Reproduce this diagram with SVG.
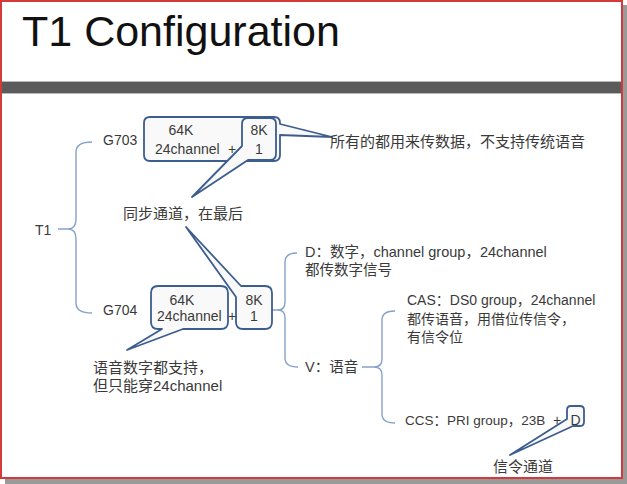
<svg xmlns="http://www.w3.org/2000/svg" width="627" height="484" viewBox="0 0 627 484">
<style>
.t{font-family:"Liberation Sans","Noto Sans CJK SC",sans-serif;fill:#3a3a3a;font-size:14px}
.cj{font-size:15px}
.lb{font-size:14px}
.box{fill:#f9f9f9;stroke:#3d5d8f;stroke-width:1.8;stroke-linejoin:round}
.br{fill:none;stroke:#86a2cc;stroke-width:1.4}
</style>
<rect x="0" y="0" width="627" height="484" fill="#ffffff"/>
<rect x="622" y="5" width="5" height="479" fill="#9a9a9a"/>
<rect x="5" y="479" width="622" height="5" fill="#9a9a9a"/>
<rect x="1" y="1" width="621" height="477" fill="#ffffff" stroke="#d43a3a" stroke-width="2"/>
<rect x="2" y="81" width="619" height="13" fill="#b8b8b8"/>
<rect x="2" y="82" width="619" height="11" fill="#5b5b5b"/>
<text x="22" y="46" style="font-family:'Liberation Sans',sans-serif;font-size:43px;fill:#111">T1 Configuration</text>

<g id="connectors">
<path class="br" d="M92,142 Q76,142 76,152 V219 Q76,229 68,229 Q76,229 76,239 V303 Q76,313 92,313 M58,229 H68"/>
<path class="br" d="M297,253 Q285,253 285,262 V302 Q285,310 278,310 Q285,310 285,318 V358 Q285,367 298,367 M272,310 H278"/>
<path class="br" d="M362,367 H374 M395,311 Q382,311 382,320 V359 Q382,367 374,367 Q382,367 382,375 V414 Q382,423 395,423"/>
</g>

<g id="g703">
<path class="box" d="M150,117 H274 Q280,117 280,123 V124 L332,137 L280,135 V155 Q280,161 274,161 H150 Q144,161 144,155 V123 Q144,117 150,117 Z"/>
<path class="box" d="M248,118 H270 Q276,118 276,124 V154 Q276,160 270,160 H248 L192,197 L242,146 V124 Q242,118 248,118 Z"/>
<text class="t lb" x="103" y="145">G703</text>
<text class="t" x="181" y="135" text-anchor="middle">64K</text>
<text class="t" x="155" y="154">24channel</text>
<text class="t" x="232" y="154" text-anchor="middle">+</text>
<text class="t" x="259" y="135" text-anchor="middle">8K</text>
<text class="t" x="259" y="154" text-anchor="middle">1</text>
</g>

<g id="g704">
<path class="box" d="M158,286 H221 Q228,286 228,293 V322 Q228,329 221,329 H183 L127,350 L162,329 H158 Q151,329 151,322 V293 Q151,286 158,286 Z"/>
<path class="box" d="M243,286 H265 Q272,286 272,293 V322 Q272,329 265,329 H243 Q236,329 236,322 V297 L186,227 L241,286 Z"/>
<text class="t lb" x="103" y="315">G704</text>
<text class="t" x="182" y="305" text-anchor="middle">64K</text>
<text class="t" x="157" y="321">24channel</text>
<text class="t" x="232" y="321" text-anchor="middle">+</text>
<text class="t" x="254" y="305" text-anchor="middle">8K</text>
<text class="t" x="254" y="321" text-anchor="middle">1</text>
</g>

<g id="t1"><text class="t lb" x="35" y="235">T1</text></g>
<g id="note-data"><text class="t cj" x="330" y="147">所有的都用来传数据，不支持传统语音</text></g>
<g id="note-sync"><text class="t cj" x="123" y="218.5">同步通道，在最后</text></g>
<g id="note-g704">
<text class="t cj" x="93" y="372.5">语音数字都支持，</text>
<text class="t cj" x="93" y="390.5">但只能穿24channel</text>
</g>
<g id="d-digital">
<text class="t" x="305" y="257" style="font-size:14.5px">D：数字，channel group，24channel</text>
<text class="t" x="305" y="275" style="font-size:14.5px">都传数字信号</text>
</g>
<g id="v-voice"><text class="t" x="305" y="372" style="font-size:14.5px">V：语音</text></g>
<g id="cas">
<text class="t" x="407" y="305">CAS：DS0 group，24channel</text>
<text class="t" x="407" y="323.5">都传语音，用借位传信令，</text>
<text class="t" x="407" y="342">有信令位</text>
</g>
<g id="ccs">
<path class="box" d="M571,406 H580 Q584,406 584,410 V422 Q584,426 580,426 H573 L510,455 L567,419 V410 Q567,406 571,406 Z"/>
<text class="t" x="405" y="425" style="font-size:13.5px">CCS：PRI group，23B</text>
<text class="t" x="557" y="425" text-anchor="middle">+</text>
<text class="t" x="575.5" y="425" text-anchor="middle">D</text>
</g>
<g id="note-signal"><text class="t cj" x="493" y="472">信令通道</text></g>
</svg>
